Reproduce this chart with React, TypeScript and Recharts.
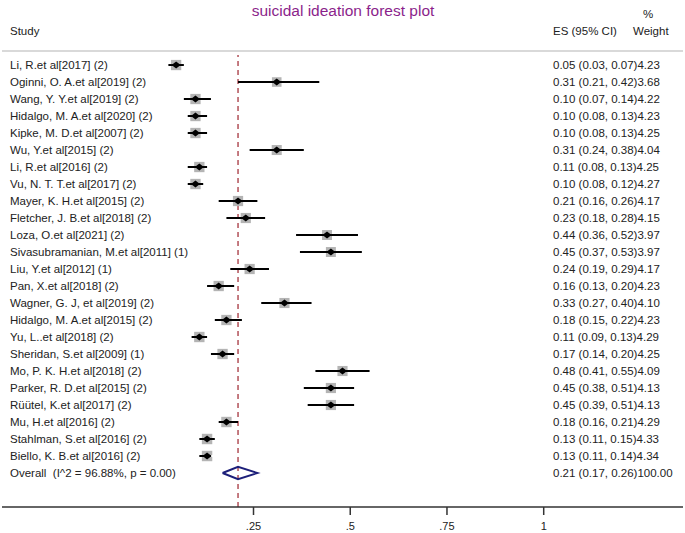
import React from 'react';
import { ScatterChart, Scatter, XAxis, YAxis, ErrorBar, ReferenceLine, Customized } from 'recharts';

// study labels, top to bottom
const studies = [
  'Li, R.et al[2017] (2)',
  'Oginni, O. A.et al[2019] (2)',
  'Wang, Y. Y.et al[2019] (2)',
  'Hidalgo, M. A.et al[2020] (2)',
  'Kipke, M. D.et al[2007] (2)',
  'Wu, Y.et al[2015] (2)',
  'Li, R.et al[2016] (2)',
  'Vu, N. T. T.et al[2017] (2)',
  'Mayer, K. H.et al[2015] (2)',
  'Fletcher, J. B.et al[2018] (2)',
  'Loza, O.et al[2021] (2)',
  'Sivasubramanian, M.et al[2011] (1)',
  'Liu, Y.et al[2012] (1)',
  'Pan, X.et al[2018] (2)',
  'Wagner, G. J, et al[2019] (2)',
  'Hidalgo, M. A.et al[2015] (2)',
  'Yu, L..et al[2018] (2)',
  'Sheridan, S.et al[2009] (1)',
  'Mo, P. K. H.et al[2018] (2)',
  'Parker, R. D.et al[2015] (2)',
  'Rüütel, K.et al[2017] (2)',
  'Mu, H.et al[2016] (2)',
  'Stahlman, S.et al[2016] (2)',
  'Biello, K. B.et al[2016] (2)',
];

const es = [0.05, 0.31, 0.10, 0.10, 0.10, 0.31, 0.11, 0.10, 0.21, 0.23, 0.44, 0.45, 0.24, 0.16, 0.33, 0.18, 0.11, 0.17, 0.48, 0.45, 0.45, 0.18, 0.13, 0.13];
const lower = [0.03, 0.21, 0.07, 0.08, 0.08, 0.24, 0.08, 0.08, 0.16, 0.18, 0.36, 0.37, 0.19, 0.13, 0.27, 0.15, 0.09, 0.14, 0.41, 0.38, 0.39, 0.16, 0.11, 0.11];
const upper = [0.07, 0.42, 0.14, 0.13, 0.13, 0.38, 0.13, 0.12, 0.26, 0.28, 0.52, 0.53, 0.29, 0.20, 0.40, 0.22, 0.13, 0.20, 0.55, 0.51, 0.51, 0.21, 0.15, 0.14];
const weights = [4.23, 3.68, 4.22, 4.23, 4.25, 4.04, 4.25, 4.27, 4.17, 4.15, 3.97, 3.97, 4.17, 4.23, 4.10, 4.23, 4.29, 4.25, 4.09, 4.13, 4.13, 4.29, 4.33, 4.34];

const overallLabel = 'Overall  (I^2 = 96.88%, p = 0.00)';
const overallEs = 0.21;
const overallLower = 0.17;
const overallUpper = 0.26;
const overallWeight = 100;

const xTicks = [0.25, 0.5, 0.75, 1];

const FONT = '"Liberation Sans", Arial, sans-serif';
const TEXT = '#222';

const rows = studies.map((name, i) => ({
  name,
  weight: weights[i],
  x: es[i],
  y: i,
  err: [es[i] - lower[i], upper[i] - es[i]],
  text: `${es[i].toFixed(2)} (${lower[i].toFixed(2)}, ${upper[i].toFixed(2)})${weights[i].toFixed(2)}`,
}));

const overallRow = studies.length;
const textRows = [
  ...rows,
  {
    name: overallLabel,
    x: overallEs,
    y: overallRow,
    text: `${overallEs.toFixed(2)} (${overallLower.toFixed(2)}, ${overallUpper.toFixed(2)})${overallWeight.toFixed(2)}`,
  },
];

// outline of the pooled-estimate diamond, walked in order
const diamondHalf = 0.36;
const diamond = [
  { x: overallLower, y: overallRow },
  { x: overallEs, y: overallRow - diamondHalf },
  { x: overallUpper, y: overallRow },
  { x: overallEs, y: overallRow + diamondHalf },
  { x: overallLower, y: overallRow },
];

const Empty = () => <g />;

// weight box, drawn in two halves so the CI line stays visible across it
const WeightBox = (props: any) => {
  const { cx, cy } = props;
  const s = 5 * Math.sqrt(props.payload.weight);
  const h = s / 2 - 1;
  return (
    <g fill="#b4b4b4">
      <rect x={cx - s / 2} y={cy - s / 2} width={s} height={h} />
      <rect x={cx - s / 2} y={cy + 1} width={s} height={h} />
    </g>
  );
};

const Marker = (props: any) => {
  const { cx, cy } = props;
  return <polygon points={`${cx - 4.5},${cy} ${cx},${cy - 3.5} ${cx + 4.5},${cy} ${cx},${cy + 3.5}`} fill="#000" />;
};

const RowText = (props: any) => {
  const { cy, payload } = props;
  return (
    <g style={{ fontFamily: FONT, fontSize: 11.5 }} fill={TEXT}>
      <text x={10} y={cy} dominantBaseline="central" style={{ whiteSpace: 'pre' }}>{payload.name}</text>
      <text x={553} y={cy} dominantBaseline="central">{payload.text}</text>
    </g>
  );
};

const Header = () => (
  <g style={{ fontFamily: FONT }}>
    <text x={343} y={10} textAnchor="middle" dominantBaseline="central" fontSize={15.5} fill="#8b1f8b">
      suicidal ideation forest plot
    </text>
    <text x={10} y={31} dominantBaseline="central" fontSize={11.5} fill={TEXT}>Study</text>
    <text x={553} y={31} dominantBaseline="central" fontSize={11.5} fill={TEXT}>ES (95% CI)</text>
    <text x={643} y={14} dominantBaseline="central" fontSize={11.5} fill={TEXT}>%</text>
    <text x={633} y={31} dominantBaseline="central" fontSize={11.5} fill={TEXT}>Weight</text>
    <line x1={2} x2={683} y1={51} y2={51} stroke="#cccccc" strokeWidth={1.5} />
  </g>
);

export default function App() {
  return (
    <div style={{ position: 'absolute', left: 0, top: 0, background: '#fff' }}>
      <ScatterChart width={685} height={533} margin={{ top: 55, right: 2, bottom: 0, left: 2 }}>
        <XAxis
          type="number"
          dataKey="x"
          domain={[-0.4, 1.36]}
          allowDataOverflow
          ticks={xTicks}
          tickFormatter={(v: number) => (v === 1 ? '1' : String(v).replace(/^0/, ''))}
          axisLine={{ stroke: '#333', strokeWidth: 1.5 }}
          tickLine={{ stroke: '#333', strokeWidth: 1.5 }}
          tickSize={8}
          tickMargin={7}
          tick={{ fontSize: 11, fill: TEXT, fontFamily: FONT }}
          height={26}
        />
        <YAxis type="number" dataKey="y" hide domain={[-0.59, 26]} reversed allowDataOverflow />
        <ReferenceLine x={overallEs} stroke="#a6353f" strokeWidth={1.3} strokeDasharray="5 4" />
        <Customized component={Header} />
        <Scatter data={rows} shape={WeightBox} isAnimationActive={false} />
        <Scatter data={rows} shape={Marker} isAnimationActive={false}>
          <ErrorBar dataKey="err" direction="x" width={0} stroke="#000" strokeWidth={2} />
        </Scatter>
        <Scatter
          data={diamond}
          line={{ stroke: '#1d1f7a', strokeWidth: 2 }}
          lineType="joint"
          shape={Empty}
          isAnimationActive={false}
        />
        <Scatter data={textRows} shape={RowText} isAnimationActive={false} />
      </ScatterChart>
    </div>
  );
}
